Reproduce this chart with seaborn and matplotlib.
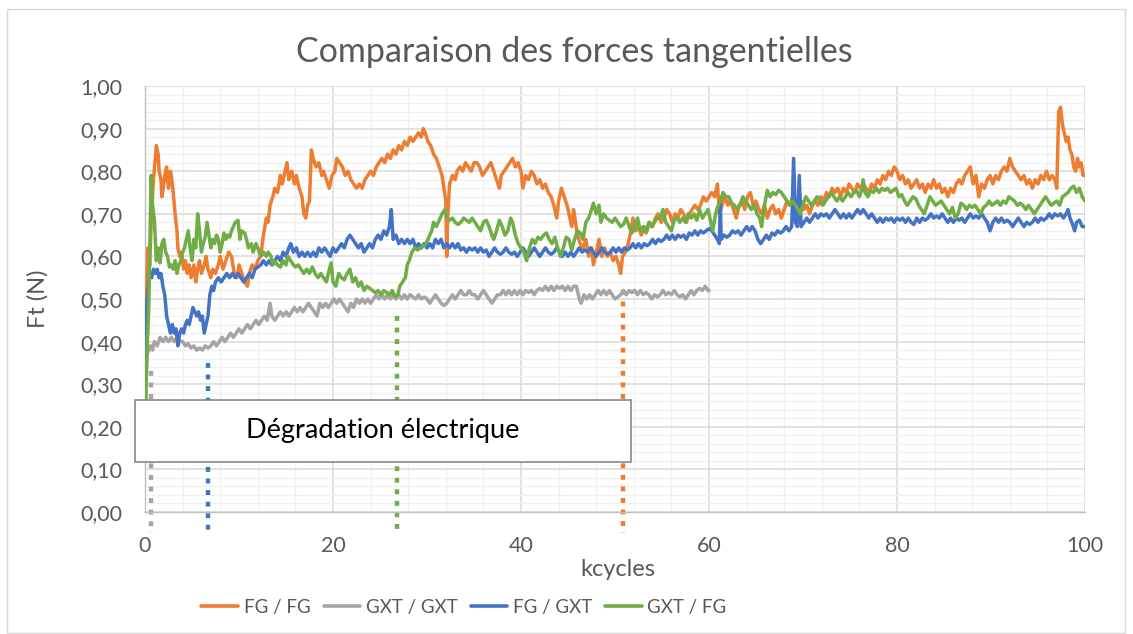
import numpy as np
import pandas as pd
import matplotlib
matplotlib.use("Agg")
import matplotlib.pyplot as plt
from matplotlib.patches import Rectangle
from matplotlib.ticker import MultipleLocator, FuncFormatter
import seaborn as sns

# ---------------------------------------------------------------------------
# Data: tangential force Ft (N) versus kcycles, one (kcycles, Ft) list per pair
# ---------------------------------------------------------------------------
fg_fg = [
    (0.0, 0.20), (0.1, 0.45), (0.3, 0.62), (0.5, 0.58), (0.7, 0.70), (0.9, 0.78), (1.1, 0.83), (1.2, 0.86),
    (1.4, 0.84), (1.5, 0.80), (1.7, 0.78), (1.8, 0.74), (2.0, 0.77), (2.1, 0.79), (2.3, 0.81), (2.4, 0.78),
    (2.5, 0.76), (2.7, 0.80), (2.8, 0.79), (3.0, 0.75), (3.2, 0.70), (3.4, 0.66), (3.5, 0.62), (3.7, 0.60),
    (3.9, 0.61), (4.1, 0.57), (4.3, 0.59), (4.5, 0.56), (4.7, 0.58), (4.9, 0.55), (5.2, 0.58), (5.4, 0.54),
    (5.6, 0.57), (5.8, 0.59), (6.0, 0.56), (6.3, 0.58), (6.5, 0.60), (6.7, 0.57), (7.0, 0.55), (7.2, 0.57),
    (7.5, 0.56), (7.8, 0.58), (8.0, 0.60), (8.3, 0.57), (8.6, 0.59), (8.9, 0.61), (9.2, 0.60), (9.5, 0.56),
    (9.8, 0.55), (10.0, 0.58), (10.3, 0.56), (10.6, 0.54), (10.9, 0.53), (11.1, 0.56), (11.4, 0.58), (11.7, 0.57),
    (12.0, 0.59), (12.3, 0.60), (12.6, 0.65), (12.9, 0.69), (13.1, 0.68), (13.3, 0.72), (13.6, 0.74), (13.8, 0.76),
    (14.1, 0.75), (14.4, 0.79), (14.6, 0.77), (14.9, 0.80), (15.1, 0.82), (15.3, 0.78), (15.6, 0.80), (15.9, 0.77),
    (16.1, 0.79), (16.4, 0.76), (16.7, 0.74), (16.9, 0.70), (17.1, 0.69), (17.3, 0.72), (17.5, 0.73), (17.7, 0.85),
    (17.9, 0.83), (18.2, 0.81), (18.5, 0.82), (18.8, 0.79), (19.0, 0.80), (19.3, 0.78), (19.6, 0.76), (19.9, 0.79),
    (20.2, 0.80), (20.4, 0.83), (20.7, 0.82), (21.0, 0.81), (21.3, 0.79), (21.6, 0.80), (21.9, 0.78), (22.2, 0.77),
    (22.5, 0.76), (22.8, 0.77), (23.1, 0.76), (23.4, 0.78), (23.7, 0.79), (24.0, 0.80), (24.3, 0.79), (24.6, 0.81),
    (24.9, 0.82), (25.2, 0.83), (25.5, 0.82), (25.8, 0.84), (26.1, 0.83), (26.4, 0.85), (26.7, 0.84), (27.0, 0.86),
    (27.3, 0.85), (27.6, 0.87), (27.9, 0.86), (28.2, 0.88), (28.5, 0.87), (28.8, 0.88), (29.1, 0.89), (29.4, 0.88),
    (29.6, 0.90), (29.8, 0.89), (30.1, 0.87), (30.4, 0.86), (30.7, 0.84), (31.0, 0.83), (31.3, 0.81), (31.6, 0.79),
    (31.8, 0.76), (32.0, 0.73), (32.1, 0.60), (32.2, 0.69), (32.4, 0.77), (32.7, 0.79), (33.0, 0.78), (33.2, 0.80),
    (33.5, 0.81), (33.8, 0.80), (34.1, 0.82), (34.4, 0.81), (34.7, 0.80), (35.0, 0.82), (35.3, 0.82), (35.6, 0.81),
    (35.9, 0.79), (36.2, 0.80), (36.5, 0.81), (36.8, 0.82), (37.1, 0.80), (37.4, 0.78), (37.7, 0.76), (37.9, 0.79),
    (38.2, 0.80), (38.5, 0.81), (38.8, 0.82), (39.1, 0.83), (39.4, 0.81), (39.7, 0.82), (40.0, 0.80), (40.2, 0.76),
    (40.5, 0.79), (40.8, 0.78), (41.1, 0.80), (41.4, 0.79), (41.7, 0.77), (42.0, 0.78), (42.3, 0.76), (42.6, 0.77),
    (42.9, 0.75), (43.2, 0.74), (43.5, 0.72), (43.8, 0.69), (44.0, 0.73), (44.3, 0.76), (44.6, 0.74), (44.9, 0.72),
    (45.2, 0.69), (45.4, 0.67), (45.6, 0.71), (45.8, 0.68), (46.0, 0.65), (46.3, 0.63), (46.6, 0.62), (46.9, 0.64),
    (47.2, 0.60), (47.5, 0.62), (47.7, 0.58), (48.0, 0.61), (48.3, 0.64), (48.6, 0.60), (48.9, 0.62), (49.2, 0.60),
    (49.5, 0.61), (49.8, 0.59), (50.1, 0.60), (50.4, 0.58), (50.6, 0.56), (50.8, 0.60), (51.1, 0.61), (51.4, 0.63),
    (51.7, 0.66), (51.9, 0.69), (52.2, 0.66), (52.5, 0.67), (52.8, 0.65), (53.1, 0.67), (53.4, 0.66), (53.7, 0.68),
    (54.0, 0.67), (54.3, 0.69), (54.6, 0.70), (54.9, 0.68), (55.2, 0.69), (55.5, 0.71), (55.8, 0.70), (56.1, 0.68),
    (56.4, 0.70), (56.7, 0.69), (57.0, 0.71), (57.3, 0.70), (57.6, 0.68), (57.9, 0.70), (58.2, 0.71), (58.5, 0.72),
    (58.8, 0.71), (59.1, 0.72), (59.4, 0.74), (59.7, 0.73), (60.0, 0.74), (60.3, 0.75), (60.6, 0.74), (60.9, 0.77),
    (61.1, 0.70), (61.4, 0.72), (61.7, 0.74), (62.0, 0.72), (62.3, 0.73), (62.6, 0.71), (62.9, 0.69), (63.2, 0.72),
    (63.5, 0.73), (63.8, 0.71), (64.1, 0.74), (64.4, 0.75), (64.7, 0.72), (65.0, 0.73), (65.3, 0.71), (65.6, 0.70),
    (65.9, 0.72), (66.2, 0.69), (66.5, 0.71), (66.8, 0.72), (67.1, 0.70), (67.4, 0.71), (67.7, 0.69), (68.0, 0.71),
    (68.3, 0.73), (68.6, 0.72), (68.9, 0.74), (69.2, 0.72), (69.5, 0.71), (69.8, 0.73), (70.1, 0.71), (70.4, 0.72),
    (70.7, 0.70), (71.0, 0.72), (71.3, 0.73), (71.6, 0.72), (71.9, 0.74), (72.2, 0.73), (72.5, 0.75), (72.8, 0.74),
    (73.1, 0.76), (73.4, 0.75), (73.7, 0.76), (74.0, 0.74), (74.3, 0.76), (74.6, 0.75), (74.9, 0.77), (75.2, 0.76),
    (75.5, 0.75), (75.8, 0.77), (76.1, 0.76), (76.4, 0.77), (76.7, 0.76), (77.0, 0.75), (77.3, 0.77), (77.6, 0.76),
    (77.9, 0.78), (78.2, 0.77), (78.5, 0.79), (78.8, 0.78), (79.1, 0.80), (79.4, 0.79), (79.7, 0.81), (80.0, 0.80),
    (80.3, 0.78), (80.6, 0.79), (80.9, 0.77), (81.2, 0.78), (81.5, 0.76), (81.8, 0.77), (82.1, 0.78), (82.4, 0.76),
    (82.7, 0.77), (83.0, 0.75), (83.3, 0.77), (83.6, 0.76), (83.9, 0.78), (84.2, 0.76), (84.5, 0.77), (84.8, 0.75),
    (85.1, 0.76), (85.4, 0.74), (85.7, 0.76), (86.0, 0.75), (86.3, 0.77), (86.6, 0.78), (86.9, 0.77), (87.2, 0.79),
    (87.5, 0.80), (87.8, 0.81), (88.1, 0.77), (88.4, 0.79), (88.7, 0.74), (89.0, 0.77), (89.3, 0.76), (89.6, 0.78),
    (89.9, 0.79), (90.2, 0.77), (90.5, 0.79), (90.8, 0.78), (91.1, 0.80), (91.4, 0.81), (91.7, 0.80), (92.0, 0.83),
    (92.3, 0.81), (92.6, 0.80), (92.9, 0.79), (93.2, 0.78), (93.5, 0.79), (93.8, 0.77), (94.1, 0.78), (94.4, 0.76),
    (94.7, 0.78), (95.0, 0.77), (95.3, 0.79), (95.6, 0.78), (95.9, 0.80), (96.2, 0.78), (96.5, 0.79), (96.8, 0.78),
    (97.0, 0.76), (97.2, 0.94), (97.4, 0.95), (97.6, 0.91), (97.8, 0.89), (98.0, 0.87), (98.2, 0.88), (98.4, 0.85),
    (98.6, 0.84), (98.8, 0.81), (99.0, 0.80), (99.2, 0.83), (99.4, 0.81), (99.6, 0.82), (99.8, 0.79), (100.0, 0.79),
]

gxt_gxt = [
    (0.0, 0.20), (0.2, 0.37), (0.4, 0.38), (0.6, 0.39), (0.8, 0.38), (1.0, 0.40), (1.3, 0.39), (1.6, 0.41),
    (1.9, 0.40), (2.2, 0.41), (2.5, 0.40), (2.8, 0.41), (3.1, 0.40), (3.4, 0.41), (3.7, 0.40), (4.0, 0.40),
    (4.3, 0.39), (4.6, 0.395), (4.9, 0.385), (5.2, 0.39), (5.5, 0.38), (5.8, 0.385), (6.1, 0.38), (6.4, 0.39),
    (6.7, 0.385), (7.0, 0.39), (7.3, 0.40), (7.6, 0.39), (7.9, 0.40), (8.2, 0.41), (8.5, 0.40), (8.8, 0.41),
    (9.1, 0.42), (9.4, 0.41), (9.7, 0.42), (10.0, 0.43), (10.3, 0.42), (10.6, 0.43), (10.9, 0.44), (11.2, 0.43),
    (11.5, 0.44), (11.8, 0.45), (12.1, 0.44), (12.4, 0.45), (12.7, 0.46), (13.0, 0.45), (13.3, 0.49), (13.5, 0.46),
    (13.8, 0.45), (14.1, 0.46), (14.4, 0.47), (14.7, 0.46), (15.0, 0.47), (15.3, 0.46), (15.6, 0.47), (15.9, 0.48),
    (16.2, 0.47), (16.5, 0.48), (16.8, 0.47), (17.1, 0.48), (17.4, 0.49), (17.7, 0.48), (18.0, 0.47), (18.3, 0.46),
    (18.6, 0.49), (18.9, 0.48), (19.2, 0.49), (19.5, 0.48), (19.8, 0.49), (20.1, 0.50), (20.4, 0.49), (20.7, 0.50),
    (21.0, 0.49), (21.3, 0.48), (21.6, 0.47), (21.9, 0.49), (22.2, 0.48), (22.5, 0.50), (22.8, 0.49), (23.1, 0.50),
    (23.4, 0.49), (23.7, 0.50), (24.0, 0.49), (24.3, 0.50), (24.6, 0.51), (24.9, 0.50), (25.2, 0.51), (25.5, 0.50),
    (25.8, 0.51), (26.1, 0.50), (26.4, 0.51), (26.7, 0.50), (27.0, 0.51), (27.3, 0.50), (27.6, 0.51), (27.9, 0.50),
    (28.2, 0.51), (28.5, 0.505), (28.8, 0.50), (29.1, 0.51), (29.4, 0.50), (29.7, 0.505), (30.0, 0.50), (30.3, 0.49),
    (30.6, 0.50), (30.9, 0.51), (31.2, 0.50), (31.5, 0.49), (31.8, 0.485), (32.1, 0.49), (32.4, 0.50), (32.7, 0.51),
    (33.0, 0.50), (33.3, 0.51), (33.6, 0.52), (33.9, 0.51), (34.2, 0.51), (34.5, 0.52), (34.8, 0.51), (35.1, 0.51),
    (35.4, 0.50), (35.7, 0.51), (36.0, 0.52), (36.3, 0.51), (36.6, 0.50), (36.9, 0.49), (37.2, 0.50), (37.5, 0.51),
    (37.8, 0.51), (38.1, 0.52), (38.4, 0.51), (38.7, 0.52), (39.0, 0.51), (39.3, 0.52), (39.6, 0.51), (39.9, 0.52),
    (40.2, 0.51), (40.5, 0.52), (40.8, 0.515), (41.1, 0.52), (41.4, 0.51), (41.7, 0.52), (42.0, 0.525), (42.3, 0.52),
    (42.6, 0.53), (42.9, 0.52), (43.2, 0.53), (43.5, 0.52), (43.8, 0.53), (44.1, 0.525), (44.4, 0.53), (44.7, 0.52),
    (45.0, 0.53), (45.3, 0.52), (45.6, 0.53), (45.9, 0.53), (46.2, 0.50), (46.4, 0.49), (46.7, 0.51), (47.0, 0.50),
    (47.3, 0.51), (47.6, 0.50), (47.9, 0.51), (48.2, 0.52), (48.5, 0.51), (48.8, 0.52), (49.1, 0.51), (49.4, 0.52),
    (49.7, 0.51), (50.0, 0.50), (50.3, 0.505), (50.6, 0.51), (50.9, 0.52), (51.2, 0.51), (51.5, 0.52), (51.8, 0.515),
    (52.1, 0.52), (52.4, 0.51), (52.7, 0.52), (53.0, 0.51), (53.3, 0.515), (53.6, 0.51), (53.9, 0.50), (54.2, 0.51),
    (54.5, 0.505), (54.8, 0.51), (55.1, 0.52), (55.4, 0.51), (55.7, 0.515), (56.0, 0.51), (56.3, 0.52), (56.6, 0.51),
    (56.9, 0.505), (57.2, 0.51), (57.5, 0.50), (57.8, 0.51), (58.1, 0.52), (58.4, 0.51), (58.7, 0.52), (59.0, 0.525),
    (59.3, 0.52), (59.6, 0.53), (59.9, 0.52), (60.0, 0.52),
]

fg_gxt = [
    (0.0, 0.20), (0.1, 0.45), (0.3, 0.52), (0.5, 0.56), (0.7, 0.55), (0.9, 0.57), (1.1, 0.56), (1.3, 0.57),
    (1.5, 0.55), (1.7, 0.56), (1.9, 0.53), (2.1, 0.51), (2.3, 0.46), (2.5, 0.44), (2.7, 0.42), (2.9, 0.44),
    (3.1, 0.42), (3.3, 0.43), (3.5, 0.39), (3.7, 0.42), (3.9, 0.43), (4.1, 0.42), (4.3, 0.44), (4.5, 0.45),
    (4.7, 0.44), (4.9, 0.46), (5.1, 0.48), (5.3, 0.47), (5.5, 0.46), (5.7, 0.47), (5.9, 0.45), (6.1, 0.46),
    (6.3, 0.42), (6.5, 0.44), (6.7, 0.46), (6.9, 0.51), (7.1, 0.53), (7.3, 0.52), (7.5, 0.54), (7.8, 0.55),
    (8.1, 0.54), (8.4, 0.55), (8.7, 0.56), (9.0, 0.55), (9.3, 0.56), (9.6, 0.55), (9.9, 0.56), (10.2, 0.55),
    (10.5, 0.54), (10.8, 0.55), (11.1, 0.56), (11.4, 0.55), (11.7, 0.57), (12.0, 0.575), (12.3, 0.58), (12.6, 0.59),
    (12.9, 0.58), (13.2, 0.59), (13.5, 0.58), (13.8, 0.59), (14.1, 0.60), (14.4, 0.59), (14.7, 0.61), (15.0, 0.60),
    (15.3, 0.62), (15.5, 0.63), (15.8, 0.61), (16.1, 0.62), (16.4, 0.60), (16.7, 0.61), (17.0, 0.60), (17.3, 0.61),
    (17.6, 0.60), (17.9, 0.61), (18.2, 0.60), (18.5, 0.62), (18.8, 0.61), (19.1, 0.62), (19.4, 0.61), (19.7, 0.60),
    (20.0, 0.62), (20.3, 0.61), (20.6, 0.62), (20.9, 0.63), (21.2, 0.62), (21.5, 0.64), (21.8, 0.65), (22.1, 0.64),
    (22.4, 0.63), (22.7, 0.62), (23.0, 0.63), (23.3, 0.61), (23.6, 0.62), (23.9, 0.63), (24.2, 0.62), (24.5, 0.64),
    (24.8, 0.65), (25.1, 0.64), (25.4, 0.66), (25.7, 0.65), (26.0, 0.67), (26.2, 0.71), (26.4, 0.64), (26.7, 0.65),
    (27.0, 0.63), (27.3, 0.64), (27.6, 0.63), (27.9, 0.64), (28.2, 0.63), (28.5, 0.64), (28.8, 0.62), (29.1, 0.63),
    (29.4, 0.62), (29.7, 0.63), (30.0, 0.62), (30.3, 0.63), (30.6, 0.62), (30.9, 0.64), (31.2, 0.63), (31.5, 0.64),
    (31.8, 0.62), (32.1, 0.63), (32.4, 0.62), (32.7, 0.63), (33.0, 0.62), (33.3, 0.63), (33.6, 0.615), (33.9, 0.62),
    (34.2, 0.61), (34.5, 0.62), (34.8, 0.615), (35.1, 0.62), (35.4, 0.61), (35.7, 0.62), (36.0, 0.61), (36.3, 0.615),
    (36.6, 0.60), (36.9, 0.61), (37.2, 0.62), (37.5, 0.61), (37.8, 0.605), (38.1, 0.61), (38.4, 0.62), (38.7, 0.61),
    (39.0, 0.605), (39.3, 0.61), (39.6, 0.60), (39.9, 0.61), (40.2, 0.62), (40.5, 0.61), (40.8, 0.60), (41.1, 0.61),
    (41.4, 0.62), (41.7, 0.61), (42.0, 0.60), (42.3, 0.61), (42.6, 0.62), (42.9, 0.61), (43.2, 0.605), (43.5, 0.61),
    (43.8, 0.62), (44.1, 0.61), (44.4, 0.60), (44.7, 0.61), (45.0, 0.60), (45.3, 0.61), (45.6, 0.60), (45.9, 0.61),
    (46.2, 0.62), (46.5, 0.61), (46.8, 0.615), (47.1, 0.61), (47.4, 0.62), (47.7, 0.61), (48.0, 0.60), (48.3, 0.61),
    (48.6, 0.62), (48.9, 0.61), (49.2, 0.605), (49.5, 0.61), (49.8, 0.62), (50.1, 0.61), (50.4, 0.62), (50.7, 0.61),
    (51.0, 0.62), (51.3, 0.615), (51.6, 0.62), (51.9, 0.63), (52.2, 0.62), (52.5, 0.63), (52.8, 0.62), (53.1, 0.63),
    (53.4, 0.625), (53.7, 0.63), (54.0, 0.64), (54.3, 0.63), (54.6, 0.64), (54.9, 0.635), (55.2, 0.64), (55.5, 0.65),
    (55.8, 0.64), (56.1, 0.65), (56.4, 0.64), (56.7, 0.65), (57.0, 0.645), (57.3, 0.65), (57.6, 0.64), (57.9, 0.655),
    (58.2, 0.65), (58.5, 0.66), (58.8, 0.65), (59.1, 0.66), (59.4, 0.655), (59.7, 0.66), (60.0, 0.665), (60.3, 0.66),
    (60.6, 0.65), (60.9, 0.64), (61.1, 0.63), (61.2, 0.73), (61.3, 0.64), (61.6, 0.65), (61.9, 0.645), (62.2, 0.65),
    (62.5, 0.66), (62.8, 0.655), (63.1, 0.66), (63.4, 0.65), (63.7, 0.66), (64.0, 0.67), (64.3, 0.66), (64.6, 0.67),
    (64.9, 0.66), (65.2, 0.64), (65.5, 0.63), (65.8, 0.64), (66.1, 0.65), (66.4, 0.64), (66.7, 0.655), (67.0, 0.65),
    (67.3, 0.66), (67.6, 0.655), (67.9, 0.66), (68.2, 0.67), (68.5, 0.66), (68.8, 0.67), (69.0, 0.83), (69.2, 0.68),
    (69.4, 0.67), (69.6, 0.79), (69.8, 0.67), (70.1, 0.68), (70.4, 0.69), (70.7, 0.68), (71.0, 0.69), (71.3, 0.70),
    (71.6, 0.69), (71.9, 0.70), (72.2, 0.695), (72.5, 0.70), (72.8, 0.69), (73.1, 0.70), (73.4, 0.71), (73.7, 0.70),
    (74.0, 0.69), (74.3, 0.70), (74.6, 0.69), (74.9, 0.70), (75.2, 0.69), (75.5, 0.70), (75.8, 0.71), (76.1, 0.70),
    (76.4, 0.71), (76.7, 0.70), (77.0, 0.69), (77.3, 0.70), (77.6, 0.69), (77.9, 0.68), (78.2, 0.69), (78.5, 0.68),
    (78.8, 0.69), (79.1, 0.685), (79.4, 0.69), (79.7, 0.68), (80.0, 0.69), (80.3, 0.685), (80.6, 0.69), (80.9, 0.68),
    (81.2, 0.69), (81.5, 0.68), (81.8, 0.675), (82.1, 0.69), (82.4, 0.68), (82.7, 0.69), (83.0, 0.685), (83.3, 0.69),
    (83.6, 0.70), (83.9, 0.69), (84.2, 0.695), (84.5, 0.69), (84.8, 0.70), (85.1, 0.69), (85.4, 0.68), (85.7, 0.69),
    (86.0, 0.68), (86.3, 0.69), (86.6, 0.685), (86.9, 0.69), (87.2, 0.68), (87.5, 0.69), (87.8, 0.70), (88.1, 0.69),
    (88.4, 0.695), (88.7, 0.69), (89.0, 0.70), (89.3, 0.69), (89.6, 0.68), (89.9, 0.66), (90.2, 0.68), (90.5, 0.69),
    (90.8, 0.68), (91.1, 0.69), (91.4, 0.68), (91.7, 0.685), (92.0, 0.68), (92.3, 0.67), (92.6, 0.68), (92.9, 0.69),
    (93.2, 0.68), (93.5, 0.67), (93.8, 0.68), (94.1, 0.675), (94.4, 0.68), (94.7, 0.69), (95.0, 0.68), (95.3, 0.69),
    (95.6, 0.685), (95.9, 0.69), (96.2, 0.70), (96.5, 0.69), (96.8, 0.70), (97.1, 0.695), (97.4, 0.70), (97.7, 0.69),
    (98.0, 0.70), (98.2, 0.71), (98.4, 0.69), (98.6, 0.68), (98.9, 0.66), (99.1, 0.68), (99.4, 0.685), (99.7, 0.67),
    (100.0, 0.67),
]

gxt_fg = [
    (0.0, 0.20), (0.2, 0.37), (0.4, 0.48), (0.5, 0.61), (0.65, 0.79), (0.8, 0.72), (1.0, 0.685), (1.2, 0.59),
    (1.4, 0.62), (1.6, 0.585), (1.8, 0.63), (2.0, 0.64), (2.2, 0.61), (2.4, 0.60), (2.6, 0.575), (2.8, 0.58),
    (3.0, 0.57), (3.2, 0.59), (3.4, 0.56), (3.6, 0.58), (3.8, 0.59), (4.0, 0.61), (4.2, 0.62), (4.4, 0.64),
    (4.6, 0.66), (4.8, 0.62), (5.0, 0.59), (5.2, 0.64), (5.4, 0.62), (5.6, 0.70), (5.8, 0.66), (6.0, 0.61),
    (6.2, 0.63), (6.4, 0.645), (6.6, 0.68), (6.8, 0.65), (7.0, 0.62), (7.2, 0.64), (7.4, 0.63), (7.6, 0.65),
    (7.8, 0.64), (8.0, 0.61), (8.2, 0.63), (8.4, 0.655), (8.6, 0.64), (8.8, 0.65), (9.0, 0.645), (9.2, 0.66),
    (9.4, 0.67), (9.6, 0.68), (9.9, 0.685), (10.1, 0.64), (10.3, 0.66), (10.6, 0.655), (10.8, 0.64), (11.0, 0.62),
    (11.3, 0.63), (11.5, 0.61), (11.8, 0.63), (12.0, 0.62), (12.3, 0.60), (12.6, 0.61), (12.9, 0.60), (13.1, 0.61),
    (13.4, 0.60), (13.6, 0.58), (13.8, 0.59), (14.1, 0.58), (14.4, 0.575), (14.7, 0.59), (15.0, 0.58), (15.2, 0.60),
    (15.5, 0.59), (15.8, 0.58), (16.0, 0.575), (16.3, 0.58), (16.6, 0.57), (16.9, 0.56), (17.2, 0.57), (17.5, 0.56),
    (17.8, 0.575), (18.1, 0.56), (18.4, 0.55), (18.7, 0.56), (19.0, 0.55), (19.3, 0.54), (19.5, 0.56), (19.8, 0.585),
    (20.0, 0.54), (20.3, 0.53), (20.6, 0.56), (20.9, 0.55), (21.2, 0.545), (21.5, 0.56), (21.8, 0.57), (22.1, 0.54),
    (22.4, 0.55), (22.7, 0.53), (23.0, 0.54), (23.3, 0.52), (23.6, 0.53), (23.9, 0.525), (24.2, 0.52), (24.5, 0.515),
    (24.8, 0.52), (25.1, 0.51), (25.4, 0.52), (25.7, 0.515), (26.0, 0.51), (26.3, 0.52), (26.6, 0.505), (26.9, 0.51),
    (27.1, 0.53), (27.4, 0.54), (27.7, 0.55), (27.9, 0.58), (28.1, 0.59), (28.4, 0.61), (28.7, 0.62), (29.0, 0.615),
    (29.3, 0.62), (29.6, 0.625), (29.9, 0.63), (30.2, 0.645), (30.5, 0.66), (30.7, 0.68), (31.0, 0.67), (31.3, 0.685),
    (31.6, 0.70), (31.9, 0.71), (32.1, 0.69), (32.4, 0.685), (32.7, 0.69), (33.0, 0.68), (33.3, 0.675), (33.6, 0.68),
    (33.9, 0.69), (34.2, 0.685), (34.5, 0.68), (34.8, 0.69), (35.1, 0.68), (35.4, 0.67), (35.7, 0.66), (36.0, 0.68),
    (36.3, 0.685), (36.6, 0.67), (36.9, 0.65), (37.1, 0.64), (37.4, 0.66), (37.7, 0.685), (38.0, 0.67), (38.3, 0.65),
    (38.6, 0.66), (38.9, 0.69), (39.1, 0.68), (39.4, 0.65), (39.7, 0.63), (40.0, 0.62), (40.3, 0.61), (40.6, 0.59),
    (40.9, 0.62), (41.2, 0.64), (41.5, 0.63), (41.8, 0.645), (42.1, 0.64), (42.4, 0.65), (42.7, 0.655), (43.0, 0.64),
    (43.3, 0.63), (43.6, 0.645), (43.9, 0.62), (44.2, 0.60), (44.5, 0.62), (44.8, 0.645), (45.1, 0.64), (45.4, 0.615),
    (45.7, 0.64), (46.0, 0.66), (46.3, 0.655), (46.6, 0.64), (46.9, 0.68), (47.2, 0.69), (47.5, 0.71), (47.7, 0.725),
    (48.0, 0.70), (48.3, 0.72), (48.5, 0.68), (48.8, 0.70), (49.1, 0.69), (49.4, 0.685), (49.7, 0.68), (50.0, 0.69),
    (50.3, 0.68), (50.6, 0.67), (50.9, 0.675), (51.2, 0.69), (51.5, 0.67), (51.8, 0.655), (52.1, 0.67), (52.4, 0.69),
    (52.7, 0.66), (53.0, 0.67), (53.3, 0.655), (53.6, 0.68), (53.9, 0.67), (54.2, 0.68), (54.5, 0.69), (54.8, 0.69),
    (55.1, 0.71), (55.4, 0.68), (55.7, 0.67), (56.0, 0.66), (56.3, 0.685), (56.6, 0.69), (56.9, 0.68), (57.2, 0.69),
    (57.5, 0.68), (57.8, 0.70), (58.1, 0.69), (58.4, 0.70), (58.7, 0.685), (59.0, 0.71), (59.3, 0.69), (59.6, 0.70),
    (59.9, 0.71), (60.2, 0.68), (60.4, 0.66), (60.7, 0.70), (60.9, 0.715), (61.2, 0.73), (61.5, 0.75), (61.8, 0.74),
    (62.1, 0.74), (62.4, 0.725), (62.7, 0.72), (63.0, 0.71), (63.3, 0.72), (63.6, 0.74), (63.9, 0.73), (64.2, 0.72),
    (64.5, 0.71), (64.8, 0.72), (65.1, 0.70), (65.4, 0.69), (65.6, 0.67), (65.9, 0.72), (66.2, 0.755), (66.5, 0.74),
    (66.8, 0.75), (67.1, 0.745), (67.4, 0.755), (67.7, 0.75), (68.0, 0.74), (68.3, 0.73), (68.6, 0.72), (68.9, 0.73),
    (69.2, 0.72), (69.5, 0.71), (69.7, 0.70), (70.0, 0.72), (70.3, 0.74), (70.6, 0.73), (70.9, 0.72), (71.2, 0.73),
    (71.5, 0.74), (71.8, 0.73), (72.1, 0.72), (72.4, 0.73), (72.7, 0.74), (73.0, 0.75), (73.3, 0.74), (73.6, 0.73),
    (73.9, 0.74), (74.2, 0.73), (74.5, 0.74), (74.8, 0.75), (75.1, 0.74), (75.4, 0.75), (75.7, 0.755), (76.0, 0.74),
    (76.3, 0.76), (76.4, 0.78), (76.6, 0.75), (76.9, 0.74), (77.2, 0.755), (77.5, 0.75), (77.8, 0.76), (78.1, 0.75),
    (78.4, 0.76), (78.7, 0.755), (79.0, 0.76), (79.3, 0.75), (79.6, 0.755), (79.9, 0.76), (80.2, 0.74), (80.5, 0.745),
    (80.8, 0.73), (81.1, 0.72), (81.4, 0.73), (81.7, 0.74), (82.0, 0.735), (82.3, 0.72), (82.6, 0.71), (82.9, 0.70),
    (83.2, 0.72), (83.5, 0.74), (83.8, 0.73), (84.1, 0.72), (84.4, 0.725), (84.7, 0.73), (85.0, 0.72), (85.3, 0.71),
    (85.6, 0.70), (85.9, 0.715), (86.2, 0.69), (86.5, 0.70), (86.8, 0.725), (87.1, 0.72), (87.4, 0.71), (87.7, 0.72),
    (88.0, 0.715), (88.3, 0.72), (88.6, 0.71), (88.9, 0.70), (89.2, 0.715), (89.5, 0.72), (89.8, 0.73), (90.1, 0.72),
    (90.4, 0.725), (90.7, 0.73), (91.0, 0.72), (91.3, 0.73), (91.6, 0.725), (91.9, 0.74), (92.2, 0.735), (92.5, 0.73),
    (92.8, 0.72), (93.1, 0.725), (93.4, 0.72), (93.7, 0.71), (94.0, 0.72), (94.3, 0.71), (94.6, 0.70), (94.9, 0.71),
    (95.2, 0.72), (95.5, 0.73), (95.8, 0.74), (96.1, 0.73), (96.4, 0.72), (96.7, 0.725), (97.0, 0.73), (97.3, 0.72),
    (97.6, 0.74), (97.9, 0.745), (98.2, 0.75), (98.5, 0.76), (98.8, 0.765), (99.1, 0.75), (99.4, 0.76), (99.7, 0.74),
    (100.0, 0.73),
]

series_names = ["FG / FG", "GXT / GXT", "FG / GXT", "GXT / FG"]
series_points = [fg_fg, gxt_gxt, fg_gxt, gxt_fg]
series_colors = ["#ED7D31", "#A5A5A5", "#4472C4", "#70AD47"]

# Onset of electrical degradation for each pair (kcycles) and top of its marker (N)
degradation_k = [0.6, 6.7, 26.8, 50.85]
degradation_top = [0.33, 0.35, 0.46, 0.52]
degradation_colors = ["#A5A5A5", "#4472C4", "#70AD47", "#ED7D31"]

title_text = "Comparaison des forces tangentielles"
x_label = "kcycles"
y_label = "Ft (N)"
box_text = "Dégradation électrique"

# ---------------------------------------------------------------------------
sns.set_theme(style="white")
plt.rcParams["font.family"] = ["Lato", "DejaVu Sans"]
text_grey = "#595959"

W, H = 1133, 634
fig = plt.figure(figsize=(W / 100, H / 100), dpi=100)
ax = fig.add_axes([145 / W, 1 - 512 / H, (1085 - 145) / W, (512 - 86) / H])

frames = []
for name, pts in zip(series_names, series_points):
    k, ft = zip(*pts)
    frames.append(pd.DataFrame({"kcycles": k, "Ft": ft, "pair": name}))
df = pd.concat(frames, ignore_index=True)

for name, color in zip(series_names, series_colors):
    sub = df[df["pair"] == name]
    sns.lineplot(data=sub, x="kcycles", y="Ft", color=color, lw=2.5,
                 estimator=None, sort=False, ax=ax, label=name, zorder=3)

# dotted degradation markers, running below the axis
for xk, top, c in zip(degradation_k, degradation_top, degradation_colors):
    ax.plot([xk, xk], [top, -0.05], color=c, lw=3.2, ls=(0, (1.1, 1.5)),
            clip_on=False, zorder=2, solid_capstyle="butt")

# annotation box
ax.add_patch(Rectangle((-1.06, 0.117), 52.76, 0.146, facecolor="white",
                       edgecolor="#7f7f7f", lw=1.1, clip_on=False, zorder=6))
ax.text(25.3, 0.192, box_text, ha="center", va="center", fontsize=19.5,
        color="black", zorder=7)

# axes
ax.set_xlim(0, 100)
ax.set_ylim(0, 1.0)
ax.xaxis.set_major_locator(MultipleLocator(20))
ax.xaxis.set_minor_locator(MultipleLocator(4))
ax.yaxis.set_major_locator(MultipleLocator(0.1))
ax.yaxis.set_minor_locator(MultipleLocator(0.02))
ax.yaxis.set_major_formatter(FuncFormatter(lambda v, p: f"{v:.2f}".replace(".", ",")))
ax.xaxis.set_major_formatter(FuncFormatter(lambda v, p: f"{v:.0f}"))
ax.grid(which="major", color="#d9d9d9", lw=1.1, zorder=0)
ax.grid(which="minor", color="#f0f0f0", lw=1.0, zorder=0)
ax.set_axisbelow(True)
for s in ["top", "right"]:
    ax.spines[s].set_visible(False)
for s in ["left", "bottom"]:
    ax.spines[s].set_color("#bfbfbf")
    ax.spines[s].set_linewidth(1.0)
ax.tick_params(which="both", direction="inout", length=7, width=1.0, color="#bfbfbf")
ax.tick_params(axis="y", which="major", pad=13, labelsize=15.5, labelcolor=text_grey)
ax.tick_params(axis="x", which="major", pad=14, labelsize=15.5, labelcolor=text_grey)
ax.tick_params(axis="both", which="minor", labelsize=0)
ax.set_xlabel("")
ax.set_ylabel("")
ax.legend_.remove()

fig.text(574 / W, 1 - 52 / H, title_text, ha="center", va="center", fontsize=24.5, color=text_grey)
fig.text(618 / W, 1 - 569 / H, x_label, ha="center", va="center", fontsize=17, color=text_grey)
fig.text(38 / W, 1 - 299 / H, y_label, ha="center", va="center", rotation=90, fontsize=17, color=text_grey)

handles, labels = ax.get_legend_handles_labels()
leg = fig.legend(handles, labels, loc="center", bbox_to_anchor=(464 / W, 1 - 607 / H), ncol=4,
                 frameon=False, fontsize=13.5,
                 handlelength=1.95, handletextpad=0.3, columnspacing=0.7)
for t in leg.get_texts():
    t.set_color(text_grey)
for h in leg.legend_handles:
    h.set_linewidth(2.6)

# chart area outline
fig.add_artist(Rectangle((7 / W, 1 / H), (1125 - 7) / W, (625 - 1) / H, transform=fig.transFigure,
                         fill=False, edgecolor="#d9d9d9", lw=1.0))

fig.savefig("out.png", dpi=100, facecolor="white")
